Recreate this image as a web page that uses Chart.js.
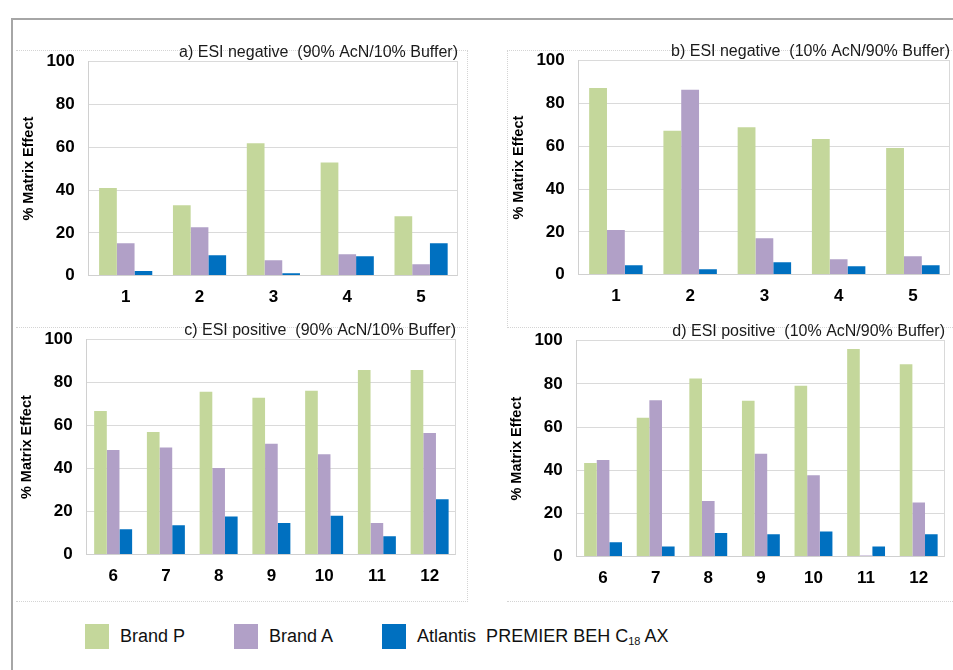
<!DOCTYPE html>
<html>
<head>
<meta charset="utf-8">
<script src="https://cdn.jsdelivr.net/npm/chart.js@4.4.1/dist/chart.umd.min.js"></script>
<style>
  body { margin: 0; background: #fff; font-family: "Liberation Sans", Arial, sans-serif; }
  #page { position: relative; width: 953px; height: 670px; overflow: hidden; }
  #frame { position: absolute; left: 11px; top: 18px; right: -5px; bottom: -5px;
           border-top: 2px solid #a6a6a6; border-left: 2px solid #a6a6a6; }
  .box { position: absolute; border: 0 dotted #d4d4d4; }
  canvas { position: absolute; }
  #legend { position: absolute; left: 85px; top: 624px; display: flex; align-items: center; }
  .item { display: flex; align-items: center; margin-right: 49px; font-size: 18px; color: #111; }
  .swatch { width: 24px; height: 25px; margin-right: 11px; }
  sub { font-size: 11px; vertical-align: -3px; }
</style>
</head>
<body>
<div id="page">
  <div id="frame"></div>
  <div class="box" style="left:16px;top:50px;width:451px;height:277px;border-top-width:1px;border-right-width:1px;"></div>
  <div class="box" style="left:16px;top:327px;width:451px;height:273px;border-top-width:1px;border-right-width:1px;border-bottom-width:1px;"></div>
  <div class="box" style="left:507px;top:50px;width:450px;height:277px;border-top-width:1px;border-left-width:1px;"></div>
  <div class="box" style="left:507px;top:327px;width:450px;height:273px;border-top-width:1px;border-bottom-width:1px;"></div>

  <canvas id="chartA" width="438" height="282" style="left:20px;top:37px;"></canvas>
  <canvas id="chartB" width="440" height="282" style="left:510px;top:36px;"></canvas>
  <canvas id="chartC" width="438" height="283" style="left:18px;top:315px;"></canvas>
  <canvas id="chartD" width="437" height="284" style="left:508px;top:316px;"></canvas>

  <div id="legend"></div>
</div>

<script>
// compounds
const negLabels = ['1', '2', '3', '4', '5'];
const posLabels = ['6', '7', '8', '9', '10', '11', '12'];

const seriesNames = ['Brand P', 'Brand A', 'Atlantis&nbsp; PREMIER BEH C<sub>18</sub> AX'];
const seriesColors = ['#c4d79b', '#b1a0c7', '#0070c0'];

// a) ESI negative (90% AcN/10% Buffer)
const aBrandP = [41.0, 32.9, 61.9, 52.9, 27.8];
const aBrandA = [15.1, 22.6, 7.2, 10.0, 5.3];
const aAtlantis = [2.2, 9.5, 1.1, 9.0, 15.1];

// b) ESI negative (10% AcN/90% Buffer)
const bBrandP = [87.2, 67.2, 68.9, 63.4, 59.2];
const bBrandA = [20.9, 86.4, 17.0, 7.2, 8.6];
const bAtlantis = [4.4, 2.5, 5.8, 3.9, 4.4];

// c) ESI positive (90% AcN/10% Buffer)
const cBrandP = [66.8, 57.1, 75.8, 73.0, 76.3, 85.9, 85.9];
const cBrandA = [48.7, 49.8, 40.3, 51.6, 46.7, 14.7, 56.6];
const cAtlantis = [11.8, 13.6, 17.7, 14.7, 18.1, 8.5, 25.7];

// d) ESI positive (10% AcN/90% Buffer)
const dBrandP = [43.4, 64.3, 82.5, 72.2, 79.1, 96.1, 89.1];
const dBrandA = [44.8, 72.4, 25.7, 47.6, 37.7, 0.5, 25.1];
const dAtlantis = [6.7, 4.7, 10.9, 10.4, 11.6, 4.7, 10.4];

const yTicks = [0, 20, 40, 60, 80, 100];

Chart.defaults.font.family = '"Liberation Sans", Arial, sans-serif';
Chart.defaults.color = '#000';

// light frame line on the right side of the plot area
const plotFrame = {
  id: 'plotFrame',
  afterDraw(chart) {
    const { ctx, chartArea } = chart;
    ctx.save();
    ctx.strokeStyle = '#d9d9d9';
    ctx.lineWidth = 1;
    ctx.beginPath();
    ctx.moveTo(Math.round(chartArea.right) - 0.5, chartArea.top);
    ctx.lineTo(Math.round(chartArea.right) - 0.5, chartArea.bottom);
    ctx.stroke();
    ctx.restore();
  }
};

function makeChart(id, title, labels, series) {
  new Chart(document.getElementById(id), {
    type: 'bar',
    data: {
      labels: labels,
      datasets: series.map((vals, i) => ({
        label: seriesNames[i],
        data: vals,
        backgroundColor: seriesColors[i],
        borderWidth: 0,
        categoryPercentage: 0.72,
        barPercentage: 1.0
      }))
    },
    options: {
      responsive: false,
      animation: false,
      layout: { padding: 0 },
      plugins: {
        legend: { display: false },
        tooltip: { enabled: false },
        title: {
          display: true,
          text: title,
          align: 'end',
          color: '#1a1a1a',
          font: { size: 16, weight: 'normal' },
          padding: { top: 5.5, bottom: 0 }
        }
      },
      scales: {
        x: {
          grid: { display: false, drawTicks: false },
          border: { display: true, color: '#d0d0d0' },
          ticks: { padding: 11.5, font: { size: 17, weight: 'bold' }, color: '#000' }
        },
        y: {
          min: 0,
          max: 100,
          afterBuildTicks: (axis) => { axis.ticks = yTicks.map(v => ({ value: v })); },
          grid: { color: '#dadada', drawTicks: false },
          border: { display: true, color: '#d0d0d0' },
          ticks: { padding: 14, font: { size: 17, weight: 'bold' }, color: '#000' },
          title: {
            display: true,
            text: '% Matrix Effect',
            color: '#000',
            font: { size: 14.5, weight: 'bold' },
            padding: { top: 0, bottom: -5 }
          }
        }
      }
    },
    plugins: [plotFrame]
  });
}

makeChart('chartA', 'a) ESI negative  (90% AcN/10% Buffer)', negLabels, [aBrandP, aBrandA, aAtlantis]);
makeChart('chartB', 'b) ESI negative  (10% AcN/90% Buffer)', negLabels, [bBrandP, bBrandA, bAtlantis]);
makeChart('chartC', 'c) ESI positive  (90% AcN/10% Buffer)', posLabels, [cBrandP, cBrandA, cAtlantis]);
makeChart('chartD', 'd) ESI positive  (10% AcN/90% Buffer)', posLabels, [dBrandP, dBrandA, dAtlantis]);

// legend
const legend = document.getElementById('legend');
seriesNames.forEach((name, i) => {
  const item = document.createElement('div');
  item.className = 'item';
  item.innerHTML = '<span class="swatch" style="background:' + seriesColors[i] + '"></span><span>' + name + '</span>';
  legend.appendChild(item);
});
</script>
</body>
</html>
